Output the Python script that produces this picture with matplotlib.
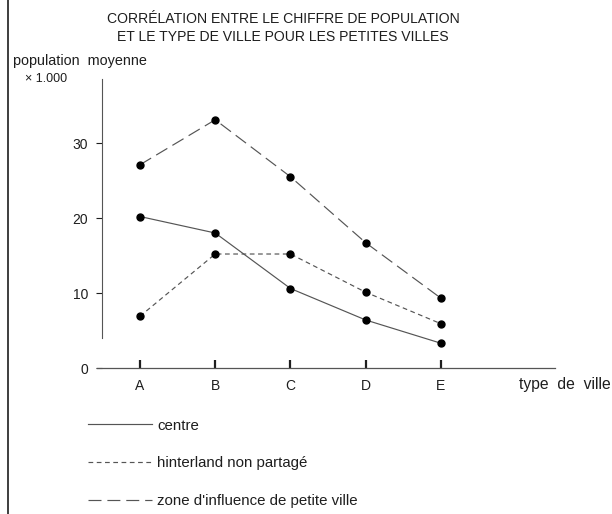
import matplotlib

matplotlib.use("Agg")

import matplotlib.pyplot as plt  # noqa: E402
from matplotlib.lines import Line2D  # noqa: E402

plt.rcParams["font.family"] = ["Liberation Sans", "DejaVu Sans"]

town_types = ["A", "B", "C", "D", "E"]
centre = [20.2, 18.0, 10.6, 6.4, 3.3]
hinterland = [6.9, 15.2, 15.2, 10.1, 5.9]
zone_influence = [27.1, 33.1, 25.5, 16.7, 9.3]
y_ticks = [0, 10, 20, 30]

series_labels = ["centre", "hinterland non partagé", "zone d'influence de petite ville"]
series_styles = ["-", (0, (4, 3)), (0, (11, 5))]

INK = "#1e1e1e"
LINE = "#555555"

fig = plt.figure(figsize=(6.12, 5.14), dpi=100)
ax = fig.add_axes([97 / 612, 1 - 368 / 514, 458 / 612, 293 / 514])
x = list(range(len(town_types)))
ax.set_xlim(-0.571, 5.515)
ax.set_ylim(0, 39.07)

handles = []
for values, label, style in zip([centre, hinterland, zone_influence], series_labels, series_styles):
    ax.plot(x, values, linestyle=style, color=LINE, linewidth=0.85,
            marker="o", markersize=5, markerfacecolor="black", markeredgecolor="black", clip_on=False)
    handles.append(Line2D([], [], linestyle=style, color=LINE, linewidth=0.85, label=label))

for side in ("top", "right"):
    ax.spines[side].set_visible(False)
ax.spines["left"].set_position(("data", -0.505))
ax.spines["left"].set_bounds(4, 38.6)
ax.spines["left"].set_color(LINE)
ax.spines["left"].set_linewidth(0.8)
ax.spines["bottom"].set_color(LINE)
ax.spines["bottom"].set_linewidth(0.9)

ax.set_xticks(x)
ax.set_xticklabels(town_types)
ax.tick_params(axis="x", direction="in", length=6, width=1.6, colors=INK, labelsize=10, pad=8)
ax.set_yticks(y_ticks)
ax.tick_params(axis="y", direction="out", length=4, width=0.8, colors=INK, labelsize=10, pad=6)

fig.text(283 / 612, 1 - 19 / 514, "CORRÉLATION ENTRE LE CHIFFRE DE POPULATION", ha="center", va="center",
         fontsize=10.1, color=INK)
fig.text(283 / 612, 1 - 37 / 514, "ET LE TYPE DE VILLE POUR LES PETITES VILLES", ha="center", va="center",
         fontsize=10.1, color=INK)
fig.text(13 / 612, 1 - 61 / 514, "population  moyenne", ha="left", va="center", fontsize=10.4, color=INK)
fig.text(25 / 612, 1 - 79 / 514, "× 1.000", ha="left", va="center", fontsize=9, color=INK)
fig.text(519 / 612, 1 - 384 / 514, "type  de  ville", ha="left", va="center", fontsize=11.3, color=INK)

fig.legend(handles=handles, loc="upper left", bbox_to_anchor=(74 / 612, 1 - 405 / 514), frameon=False,
           handlelength=4.3, handletextpad=0.35, labelspacing=1.6, fontsize=10.8, labelcolor=INK)

fig.add_artist(Line2D([8 / 612, 8 / 612], [0, 1], color=INK, linewidth=1.2))

fig.savefig("out.png", dpi=100)
